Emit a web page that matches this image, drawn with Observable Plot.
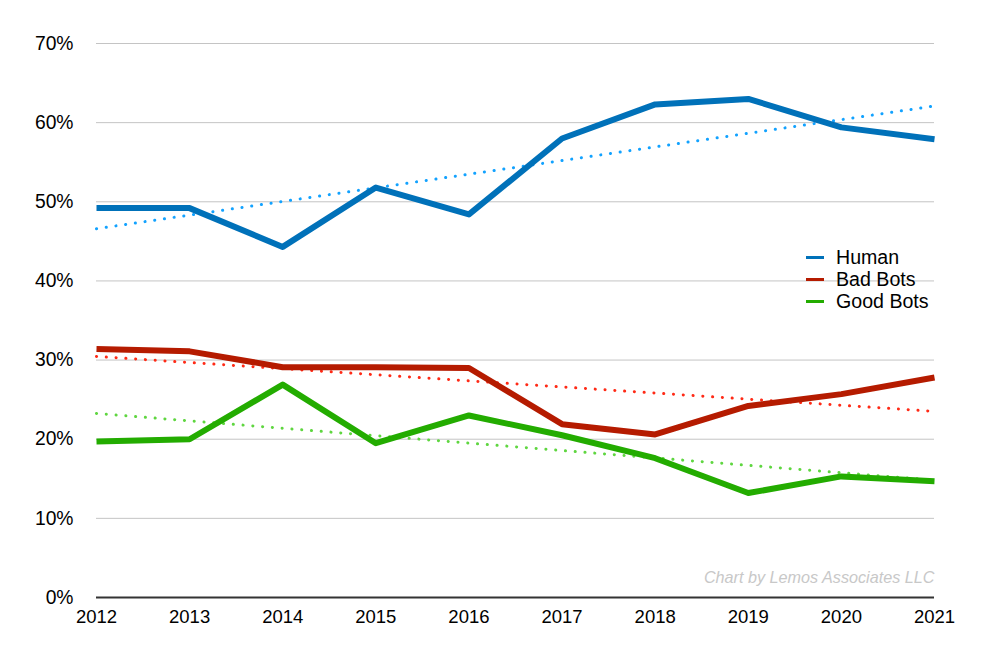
<!DOCTYPE html>
<html>
<head>
<meta charset="utf-8">
<script src="https://cdn.jsdelivr.net/npm/d3@7"></script>
<script src="https://cdn.jsdelivr.net/npm/@observablehq/plot@0.6"></script>
<style>
  body { margin: 0; background: #fff; font-family: "Liberation Sans", Arial, Helvetica, sans-serif; }
  #wrap { position: relative; width: 991px; height: 664px; }
  .legend { position: absolute; left: 806px; top: 246px; font-size: 19.6px; color: #000; line-height: 22px; }
  .legend div { display: flex; align-items: center; }
  .legend span.sw { display: inline-block; width: 18px; height: 3px; margin-right: 12px; }
</style>
</head>
<body>
<div id="wrap"></div>
<script>
const years = [2012, 2013, 2014, 2015, 2016, 2017, 2018, 2019, 2020, 2021];
const human = [49.2, 49.2, 44.3, 51.8, 48.4, 58.0, 62.3, 63.0, 59.4, 57.9];
const badBots = [31.4, 31.1, 29.1, 29.1, 29.0, 21.9, 20.6, 24.2, 25.7, 27.8];
const goodBots = [19.7, 20.0, 26.9, 19.5, 23.0, 20.5, 17.6, 13.2, 15.3, 14.7];
const seriesNames = ["Human", "Bad Bots", "Good Bots"];
const lineColors = ["#0071b9", "#b51b00", "#23ac00"];
const trendColors = ["#12a2ff", "#ff2a16", "#5fd640"];
const yTicks = [0, 10, 20, 30, 40, 50, 60, 70];
const credit = "Chart by Lemos Associates LLC";

const seriesValues = [human, badBots, goodBots];
const data = seriesNames.flatMap((s, i) => years.map((y, j) => ({series: s, year: y, value: seriesValues[i][j]})));

const chart = Plot.plot({
  width: 991,
  height: 664,
  marginLeft: 96,
  marginRight: 57,
  marginTop: 43,
  marginBottom: 67,
  style: {fontFamily: '"Liberation Sans", Arial, Helvetica, sans-serif', fontSize: "19px", color: "#000", background: "#fff"},
  x: {domain: [2012, 2021], label: null},
  y: {domain: [0, 70], label: null},
  color: {domain: seriesNames, range: lineColors},
  marks: [
    Plot.gridY(yTicks.filter(t => t > 0), {stroke: "#c4c4c4", strokeOpacity: 1, strokeWidth: 1}),
    Plot.ruleY([0], {stroke: "#333", strokeWidth: 2}),
    ...seriesNames.map((s, i) => Plot.linearRegressionY(data.filter(d => d.series === s), {
      x: "year", y: "value", stroke: trendColors[i], strokeWidth: 3, ci: 0,
      strokeDasharray: "0.1,9.7", strokeLinecap: "round"
    })),
    Plot.line(data, {x: "year", y: "value", z: "series", stroke: "series", strokeWidth: 6, strokeLinejoin: "round", strokeLinecap: "butt"}),
    Plot.text([credit], {frameAnchor: "bottom-right", text: d => d, dy: -15, fill: "#c8c8c8", fontSize: 16.2, fontStyle: "italic"}),
    Plot.axisX({ticks: years, tickFormat: "d", tickSize: 0, tickPadding: 12, fontSize: 18.5}),
    Plot.axisY({ticks: yTicks, tickFormat: d => d + "%", tickSize: 0, tickPadding: 23, fontSize: 19.3})
  ]
});

const wrap = document.getElementById("wrap");
wrap.appendChild(chart);
const legend = document.createElement("div");
legend.className = "legend";
seriesNames.forEach((s, i) => {
  const row = document.createElement("div");
  const sw = document.createElement("span");
  sw.className = "sw";
  sw.style.background = lineColors[i];
  row.appendChild(sw);
  row.appendChild(document.createTextNode(s));
  legend.appendChild(row);
});
wrap.appendChild(legend);
</script>
</body>
</html>
